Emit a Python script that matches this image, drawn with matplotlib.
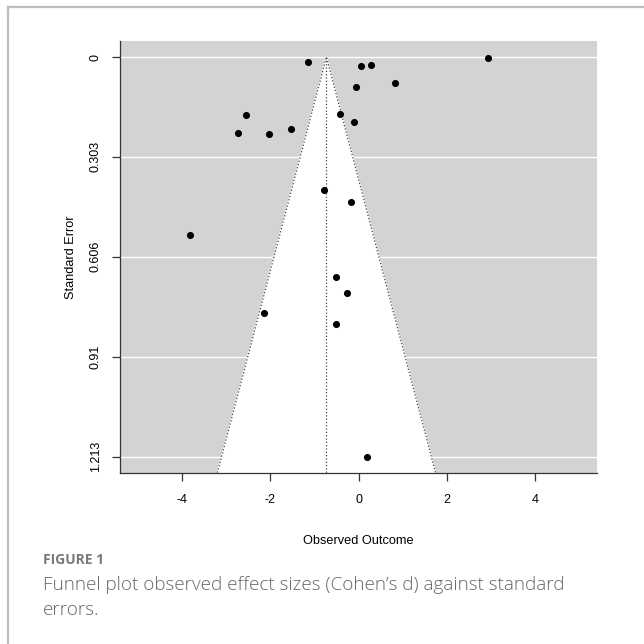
import matplotlib.pyplot as plt
from matplotlib.lines import Line2D

# observed effect sizes (Cohen's d) and their standard errors
effect = [-1.15, -2.56, -2.74, -2.03, -1.53, -0.43, -0.11, -0.07, -0.78, -0.18,
          -3.82, 0.06, 0.29, 0.82, 2.93, -2.15, -0.51, -0.27, -0.51, 0.20]
se = [0.015, 0.175, 0.231, 0.235, 0.218, 0.172, 0.198, 0.090, 0.403, 0.440,
      0.540, 0.026, 0.025, 0.079, 0.002, 0.777, 0.669, 0.715, 0.809, 1.213]

estimate = -0.73
ytick_vals = [0, 0.303, 0.606, 0.91, 1.213]
ytick_labels = ["0", "0.303", "0.606", "0.91", "1.213"]
xtick_vals = [-4, -2, 0, 2, 4]

plt.rcParams['font.family'] = ['Liberation Sans', 'DejaVu Sans']
plt.rcParams['axes.unicode_minus'] = False

fig = plt.figure(figsize=(6.44, 6.44), dpi=100)
ax = fig.add_axes([0.1863, 0.266, 0.9275 - 0.1863, 0.9363 - 0.266])

# R-style 4% padding around the data ranges
ymax = max(se)
ypad = ymax * 0.04
ax.set_ylim(ymax + ypad, -ypad)
ax.set_xlim(-5.41, 5.41)
ax.set_facecolor('#d3d3d3')

for v in ytick_vals:
    ax.axhline(v, color='white', lw=1.0, zorder=1)

# pseudo confidence region
ybot = ymax + ypad
lo = estimate - 1.96 * ybot
hi = estimate + 1.96 * ybot
ax.fill([lo, estimate, hi], [ybot, 0, ybot], color='white', zorder=2)
ax.plot([lo, estimate, hi], [ybot, 0, ybot], ls=':', color='#444444', lw=0.9, zorder=3)
ax.plot([estimate, estimate], [0, ybot], ls=':', color='#444444', lw=0.9, zorder=3)

ax.scatter(effect, se, s=26, color='black', zorder=4, linewidths=0)

for side in ['top', 'right']:
    ax.spines[side].set_visible(False)
for side in ['left', 'bottom']:
    ax.spines[side].set_color('#333333')
    ax.spines[side].set_linewidth(0.9)

ax.set_yticks(ytick_vals)
ax.set_yticklabels(ytick_labels, rotation=90, va='center')
ax.set_xticks(xtick_vals)
ax.tick_params(axis='y', length=6, width=0.9, color='#333333', pad=7, labelsize=9)
ax.tick_params(axis='x', length=6, width=0.9, color='#333333', pad=9, labelsize=9)
ax.set_xlabel("Observed Outcome", fontsize=9.2, labelpad=21)
ax.set_ylabel("Standard Error", fontsize=9.2, labelpad=9)

# figure frame (top and left edges only)
fig.add_artist(Line2D([8 / 644, 1], [1 - 7 / 644, 1 - 7 / 644], color='#bdbdbd', lw=1.6,
                      transform=fig.transFigure))
fig.add_artist(Line2D([8 / 644, 8 / 644], [0, 1 - 7 / 644], color='#bdbdbd', lw=1.6,
                      transform=fig.transFigure))

fig.text(43 / 644, 1 - 560 / 644, "FIGURE 1", fontsize=10, fontweight='bold',
         color='#7a7a7a', family=['Open Sans', 'DejaVu Sans'], va='center')
fig.text(43 / 644, 1 - 585 / 644, "Funnel plot observed effect sizes (Cohen\u2019s d) against standard",
         fontsize=13.6, fontweight='light', color='#666666', family=['Open Sans', 'DejaVu Sans'],
         va='center')
fig.text(43 / 644, 1 - 610 / 644, "errors.",
         fontsize=13.6, fontweight='light', color='#666666', family=['Open Sans', 'DejaVu Sans'],
         va='center')

fig.savefig("out.png", dpi=100)
